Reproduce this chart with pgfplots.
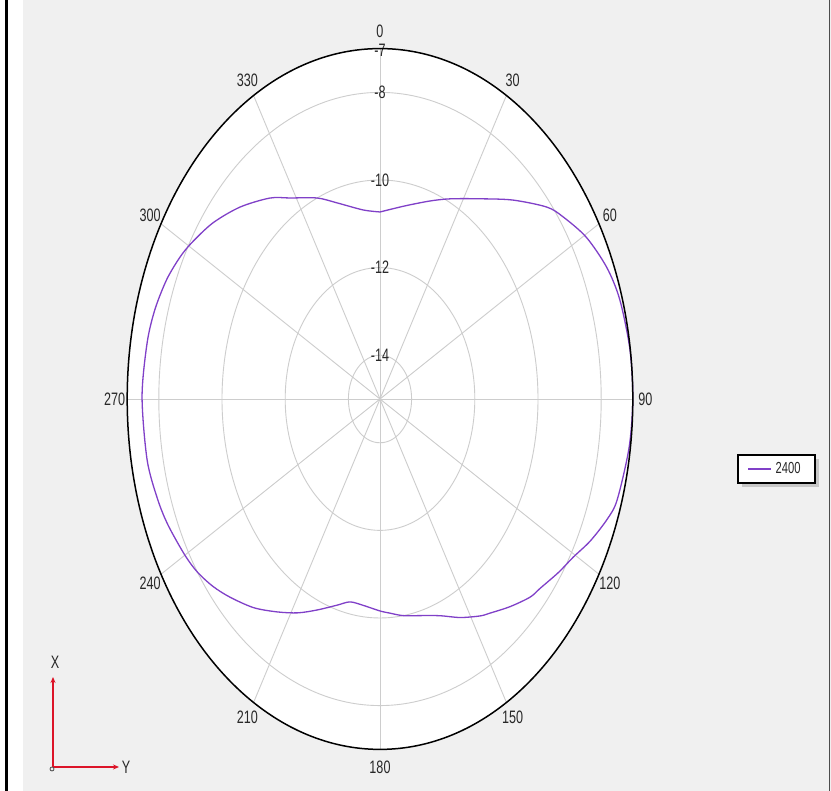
\documentclass[border=0pt]{standalone}
\usepackage{fontspec}
\setmainfont{Liberation Sans}[FakeStretch=0.7]
\usepackage{pgfplots}
\usepackage{pgfplotstable}
\pgfplotsset{compat=1.18}
\usetikzlibrary{arrows.meta}
\definecolor{bg}{RGB}{240,240,240}
\definecolor{gridc}{RGB}{205,205,205}
\definecolor{curve}{RGB}{128,64,200}
\definecolor{axred}{RGB}{220,20,40}
\definecolor{txt}{RGB}{40,40,40}
\pgfplotsset{shortline/.style={legend image code/.code={\draw[##1] (0pt,0pt) -- (11.5pt,0pt);}}}

\pgfplotstableread{
a db
0 -10.73
10.2 -10.52
19.3 -10.21
25.9 -9.92
34.7 -9.44
42.8 -8.81
50.3 -8.14
54.3 -7.87
60.5 -7.50
67.3 -7.22
73.4 -7.08
81.9 -7.01
90 -7.00
98 -7.04
107.1 -7.15
111 -7.31
116 -7.60
120.6 -7.90
125 -8.10
130.5 -8.34
133.6 -8.44
139 -8.72
144.6 -9.00
147.4 -9.12
153 -9.40
159 -9.70
165 -9.88
171.6 -10.00
176.3 -10.10
180 -10.16
186.6 -10.26
191.6 -10.27
196.1 -10.10
202.4 -9.79
208 -9.47
213.8 -9.15
220 -8.78
226.4 -8.44
231 -8.20
235.6 -8.00
240 -7.87
246.8 -7.70
252 -7.60
259.3 -7.50
270.4 -7.47
279.9 -7.52
286 -7.59
292 -7.72
297.1 -7.89
301 -8.06
307.3 -8.36
314.7 -8.77
322.8 -9.24
328.2 -9.60
336.6 -10.00
343.1 -10.32
352.9 -10.65
360 -10.73
}\gaindata

\begin{document}
\begin{tikzpicture}[font=\fontsize{9}{10}\selectfont]
\begin{scope}[x=0.5pt,y=-0.5pt,shift={(0pt,395.5pt)}]
  \fill[white] (0,0) rectangle (831,791);
  \fill[bg] (23,0) rectangle (831,791);
  \fill[black] (5,0) rectangle (7.5,791);
  \draw[black!70, line width=0.5pt] (829.5,0) -- (829.5,791);
  % legend box with shadow
  \fill[black!22] (742,459) rectangle (819,487);
  \filldraw[fill=white, draw=black, line width=0.6pt] (738,455) rectangle (815,483);
\end{scope}
% plot area
\fill[white] (190pt,196pt) ellipse [x radius=126.4pt, y radius=175.2pt];
\foreach \rr in {1,3,5,7}
  \draw[gridc, line width=0.45pt] (190pt,196pt) ellipse [x radius=\rr*15.8pt, y radius=\rr*21.9pt];
\foreach \tt in {0,30,...,330}
  \draw[gridc, line width=0.45pt] (190pt,196pt) -- ++({8*sin(\tt)*15.8pt},{8*cos(\tt)*21.9pt});

\begin{axis}[
  at={(190pt,196pt)}, anchor=origin,
  x=15.8pt, y=21.9pt,
  xmin=-8.5, xmax=8.5, ymin=-8.5, ymax=8.5,
  hide axis, clip=false, shortline,
  legend style={at={(axis cs:12.53,-1.6)}, anchor=center, draw=none,
    fill=none, text=txt, font=\fontsize{8}{9}\selectfont},
]
\addplot[curve, line width=0.65pt, smooth, tension=0.5]
  table[x expr={(\thisrow{db}+15)*sin(\thisrow{a})}, y expr={(\thisrow{db}+15)*cos(\thisrow{a})}] {\gaindata};
\addlegendentry{2400}
\end{axis}

% radial labels
\node[txt] at (190pt,{196pt+1*21.9pt}) {-14};
\node[txt] at (190pt,{196pt+3*21.9pt}) {-12};
\node[txt] at (190pt,{196pt+5*21.9pt}) {-10};
\node[txt] at (190pt,{196pt+7*21.9pt}) {-8};
\node[txt] at (190pt,{196pt+8*21.9pt-1pt}) {-7};
% outer boundary
\draw[black, line width=0.75pt] (190pt,196pt) ellipse [x radius=126.4pt, y radius=175.2pt];
% angle labels
\foreach \tt in {0,30,...,330}
  \path (190pt,196pt) ++ ({8.4*sin(\tt)*15.8pt},{8.4*cos(\tt)*21.9pt}) node[txt] {\tt};

% axis indicator
\begin{scope}[x=0.5pt,y=-0.5pt,shift={(0pt,395.5pt)}]
  \draw[axred, line width=0.6pt, -{Stealth[length=3pt,width=2.5pt]}] (53,767) -- (53,677);
  \draw[axred, line width=0.6pt, -{Stealth[length=3pt,width=2.5pt]}] (53,767) -- (119,767);
  \draw[black!70, line width=0.4pt] (52,769) circle [radius=1pt];
  \node[txt] at (55,662) {X};
  \node[txt] at (126,767) {Y};
\end{scope}
\pgfresetboundingbox
\path (0pt,0pt) rectangle (415.5pt,395.5pt);
\end{tikzpicture}
\end{document}
